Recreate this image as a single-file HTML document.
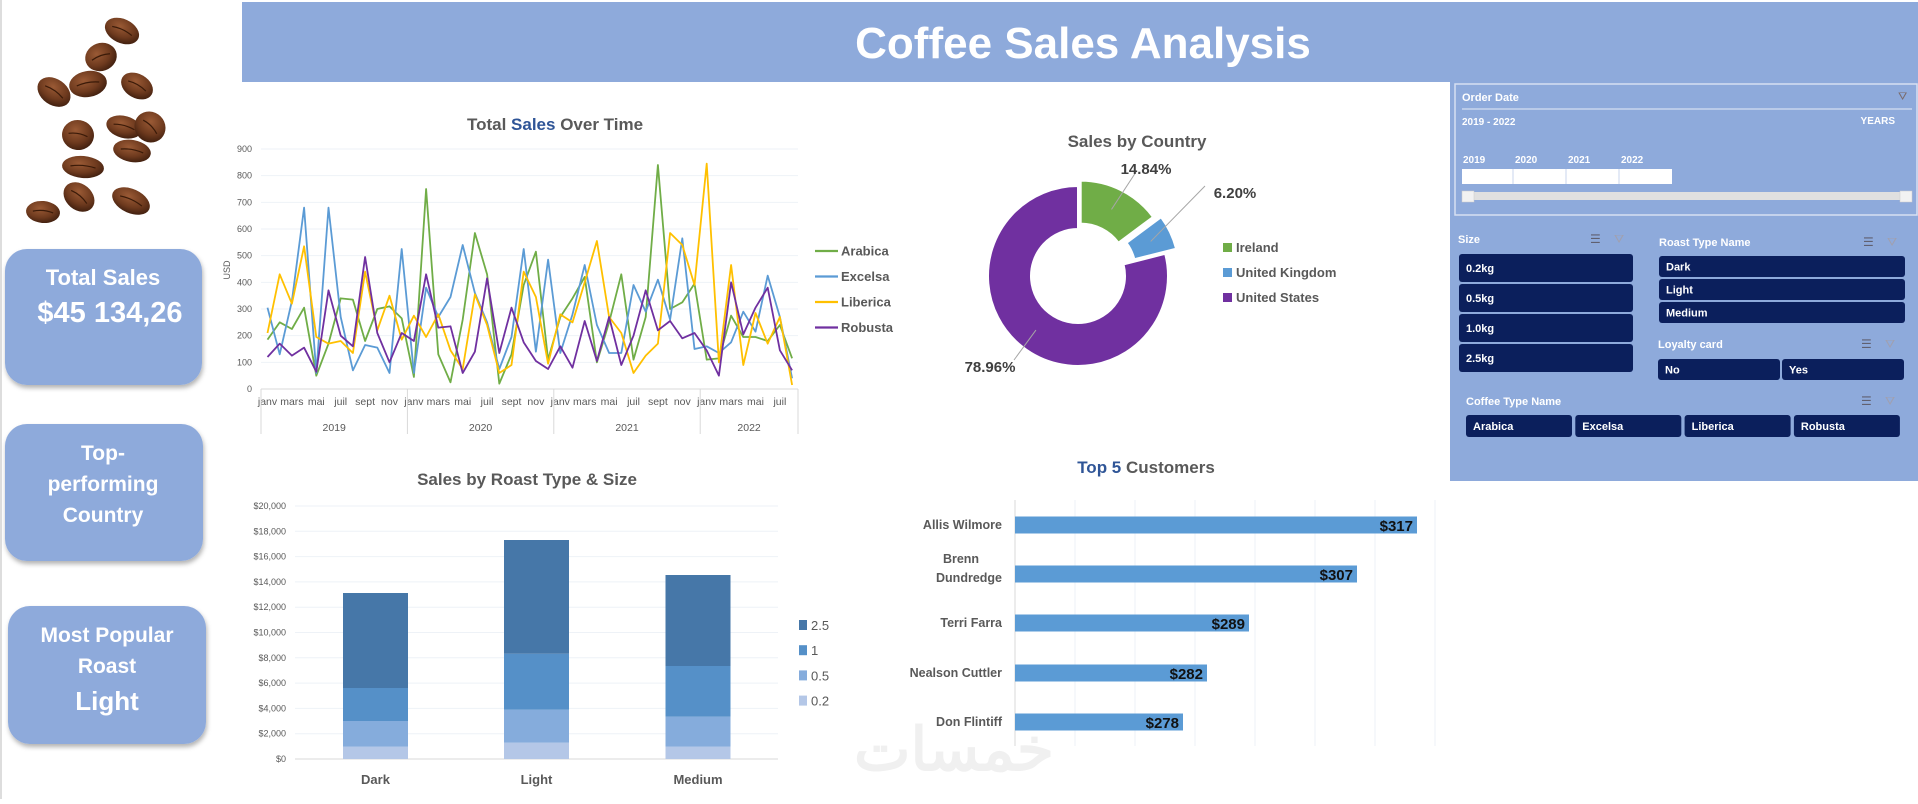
<!DOCTYPE html>
<html><head><meta charset="utf-8"><title>Coffee Sales Analysis</title>
<style>
html,body{margin:0;padding:0;background:#fff;}
body{width:1918px;height:799px;overflow:hidden;font-family:"Liberation Sans","Noto Sans CJK SC",sans-serif;}
svg text{font-family:"Liberation Sans","Noto Sans CJK SC",sans-serif;}
</style></head>
<body>
<svg id="dash" width="1918" height="799" viewBox="0 0 1918 799" xmlns="http://www.w3.org/2000/svg">
<defs>
<filter id="sh" x="-10%" y="-10%" width="130%" height="130%"><feDropShadow dx="1" dy="3" stdDeviation="2.5" flood-color="#000" flood-opacity="0.3"/></filter>
<radialGradient id="bean" cx="40%" cy="35%" r="70%"><stop offset="0" stop-color="#9a5a35"/><stop offset="0.6" stop-color="#6e3a1e"/><stop offset="1" stop-color="#3e1e0e"/></radialGradient>
</defs>
<rect x="0" y="0" width="1918" height="799" fill="#fff"/>
<line x1="1" y1="0" x2="1" y2="799" stroke="#ddd" stroke-width="2"/>
<rect x="242" y="2" width="1676" height="80" fill="#8eaadb"/>
<text x="1083" y="58" text-anchor="middle" font-size="44" font-weight="bold" fill="#fff">Coffee Sales Analysis</text>
<g id="beans"></g>
<g>
<rect x="5" y="249" width="197" height="136" rx="22" fill="#8eaadb" filter="url(#sh)"/>
<text x="103" y="285" text-anchor="middle" font-size="22" font-weight="bold" fill="#fff">Total Sales</text>
<text x="110" y="322" text-anchor="middle" font-size="29" font-weight="bold" fill="#fff">$45 134,26</text>
</g>
<g>
<rect x="5" y="424" width="198" height="137" rx="22" fill="#8eaadb" filter="url(#sh)"/>
<text x="103" y="460" text-anchor="middle" font-size="21" font-weight="bold" fill="#fff">Top-</text>
<text x="103" y="491" text-anchor="middle" font-size="21" font-weight="bold" fill="#fff">performing</text>
<text x="103" y="522" text-anchor="middle" font-size="21" font-weight="bold" fill="#fff">Country</text>
</g>
<g>
<rect x="8" y="606" width="198" height="138" rx="22" fill="#8eaadb" filter="url(#sh)"/>
<text x="107" y="642" text-anchor="middle" font-size="21" font-weight="bold" fill="#fff">Most Popular</text>
<text x="107" y="673" text-anchor="middle" font-size="21" font-weight="bold" fill="#fff">Roast</text>
<text x="107" y="710" text-anchor="middle" font-size="26" font-weight="bold" fill="#fff">Light</text>
</g>

<g id="lineChart">
<text x="555" y="130" text-anchor="middle" font-size="17" font-weight="bold" fill="#595959">Total <tspan fill="#2f5597">Sales</tspan> Over Time</text>
<text transform="translate(230,270) rotate(-90)" text-anchor="middle" font-size="9" fill="#595959">USD</text>
</g>
<g id="donut">
<text x="1137" y="147" text-anchor="middle" font-size="17" font-weight="bold" fill="#595959">Sales by Country</text>
</g>
<g id="stack">
<text x="527" y="485" text-anchor="middle" font-size="17" font-weight="bold" fill="#595959">Sales by Roast Type &amp; Size</text>
</g>
<g id="top5">
<text x="1146" y="473" text-anchor="middle" font-size="17" font-weight="bold" fill="#595959"><tspan fill="#2f5597">Top 5</tspan> Customers</text>
</g>
<text x="954" y="770" text-anchor="middle" font-size="60" font-weight="bold" fill="#f0f0f0" font-family="'WenQuanYi Zen Hei',sans-serif">خمسات</text>

<g>
<rect x="1450" y="82" width="468" height="399" fill="#8eaadb"/>
<rect x="1455" y="84" width="462" height="131" fill="none" stroke="#d6e0f2" stroke-width="1.5"/>
<text x="1462" y="101" font-size="11" font-weight="bold" fill="#fff">Order Date</text>
<text x="1898" y="100" font-size="11" fill="#7a6a6a">⛛</text>
<line x1="1462" y1="109" x2="1912" y2="109" stroke="#e6ecf7" stroke-width="1"/>
<text x="1462" y="125" font-size="10" font-weight="bold" fill="#fff">2019 - 2022</text>
<text x="1895" y="124" text-anchor="end" font-size="10" font-weight="bold" fill="#fff">YEARS</text>
<g>
<text x="1463" y="163" font-size="10" font-weight="bold" fill="#fff">2019</text>
<text x="1515" y="163" font-size="10" font-weight="bold" fill="#fff">2020</text>
<text x="1568" y="163" font-size="10" font-weight="bold" fill="#fff">2021</text>
<text x="1621" y="163" font-size="10" font-weight="bold" fill="#fff">2022</text>
<rect x="1462" y="169" width="210" height="15" fill="#fff"/>
<line x1="1513" y1="169" x2="1513" y2="184" stroke="#c8d4ec"/>
<line x1="1566" y1="169" x2="1566" y2="184" stroke="#c8d4ec"/>
<line x1="1619" y1="169" x2="1619" y2="184" stroke="#c8d4ec"/>
</g>
<g>
<rect x="1462" y="192" width="450" height="8" fill="#e0e0e0"/>
<rect x="1462" y="191" width="12" height="11" fill="#f2f2f2" stroke="#ccc" stroke-width="0.5"/>
<rect x="1900" y="191" width="12" height="11" fill="#f2f2f2" stroke="#ccc" stroke-width="0.5"/>
</g>
<g id="slicers"></g>
</g>
</svg>
<script>
const months = ['janv','févr','mars','avr','mai','juin','juil','août','sept','oct','nov','déc'];
const years = ['2019','2020','2021','2022'];
const yTicks = [0,100,200,300,400,500,600,700,800,900];
const arabica = [185,250,225,305,50,170,340,335,180,300,310,265, 45,750,130,25,260,585,430,20,130,390,515,110, 270,340,420,100,250,430,110,270,840,300,325,395, 110,115,275,195,195,180,240,115];
const excelsa = [305,130,330,680,60,680,270,70,165,155,60,525, 60,380,270,345,540,360,250,75,195,525,140,485, 135,280,465,240,135,135,390,290,410,260,565,150, 160,135,175,290,215,425,270,40];
const liberica = [210,430,320,535,195,170,180,135,440,220,350,185, 275,195,280,145,75,355,240,60,90,440,345,95, 280,250,400,555,270,210,60,125,170,585,540,390, 845,100,465,90,285,170,270,15];
const robusta = [120,170,125,155,65,370,200,160,495,210,100,210, 180,430,230,235,60,140,415,135,305,175,105,75, 160,80,255,105,270,90,200,370,220,255,190,210, 145,50,400,205,305,380,145,70];
const seriesNames = ['Arabica','Excelsa','Liberica','Robusta'];
const countries = ['Ireland','United Kingdom','United States'];
const countryShare = [14.84,6.20,78.96];
const roasts = ['Dark','Light','Medium'];
const sizes = ['0.2','0.5','1','2.5'];
const size02 = [975,1291,975];
const size05 = [2029,2609,2371];
const size1 = [2609,4427,4006];
const size25 = [7509,8985,7193];
const stackTicks = [0,2000,4000,6000,8000,10000,12000,14000,16000,18000,20000];
const customers = ['Allis Wilmore','Brenn Dundredge','Terri Farra','Nealson Cuttler','Don Flintiff'];
const customerSales = [317,307,289,282,278];
const custTicks = [250,260,270,280,290,300,310,320];

const NS='http://www.w3.org/2000/svg';
function mk(parent,tag,attrs,txt){const e=document.createElementNS(NS,tag);for(const k in attrs)e.setAttribute(k,attrs[k]);if(txt!==undefined)e.textContent=txt;parent.appendChild(e);return e;}

(function(){
const g=document.getElementById('beans');
const B=[[122,31,18,12,25],[101,57,16,14,-20],[88,84,19,13,-10],[54,92,18,13,35],[137,86,17,12,30],[78,135,16,15,10],[124,127,18,11,15],[150,127,16,15,45],[132,151,19,11,10],[83,167,21,11,5],[79,197,17,13,40],[131,201,20,12,25],[43,212,17,11,5]];
B.forEach(b=>{const e=mk(g,'ellipse',{cx:b[0],cy:b[1],rx:b[2],ry:b[3],fill:'url(#bean)',transform:`rotate(${b[4]} ${b[0]} ${b[1]})`});


mk(g,'path',{d:`M${b[0]-b[2]*0.6} ${b[1]} Q${b[0]} ${b[1]-3} ${b[0]+b[2]*0.6} ${b[1]}`,stroke:'#3a1a08',fill:'none','stroke-width':1.2,transform:`rotate(${b[4]} ${b[0]} ${b[1]})`});});
})();

(function(){
const g=document.getElementById('lineChart');
const x0=267.5, step=12.2, yb=389, yt=149;
const X=i=>x0+i*step, Y=v=>yb-(v/900)*(yb-yt);
yTicks.forEach(t=>{
 mk(g,'line',{x1:261,x2:798,y1:Y(t),y2:Y(t),stroke:t===0?'#d9d9d9':'#eef2f7','stroke-width':1});
 const tl=mk(g,'text',{x:252,y:Y(t)+3,'text-anchor':'end','font-size':9,fill:'#595959'},String(t));
 
 
});
const n=arabica.length;
for(let i=0;i<n;i+=2){
 const ml=mk(g,'text',{x:X(i),y:405,'text-anchor':'middle','font-size':10.5,fill:'#595959'},months[i%12]);
 
 
}
const bnd=[0,12,24,36,n];
for(let k=0;k<=4;k++){const bx=k<4?X(bnd[k])-6.5:798; mk(g,'line',{x1:bx,x2:bx,y1:389,y2:434,stroke:'#d9d9d9'});}
years.forEach((yr,k)=>{const a=X(bnd[k])-6.5,b=k<3?X(bnd[k+1])-6.5:798;
 const yl=mk(g,'text',{x:(a+b)/2,y:431,'text-anchor':'middle','font-size':10.5,fill:'#595959'},yr);
 
 
});
const data=[arabica,excelsa,liberica,robusta], cols=['#70ad47','#5b9bd5','#ffc000','#7030a0'];
data.forEach((d,s)=>{
 const pl=mk(g,'polyline',{points:d.map((v,i)=>X(i)+','+Y(v)).join(' '),fill:'none',stroke:cols[s],'stroke-width':1.8,'stroke-linejoin':'round'});
 
 
 const ly=251+s*25.5;
 const le=mk(g,'g',{});
 
 
 mk(le,'line',{x1:815,x2:838,y1:ly,y2:ly,stroke:cols[s],'stroke-width':2.2});
 mk(le,'text',{x:841,y:ly+4.5,'font-size':13,'font-weight':'bold',fill:'#595959'},seriesNames[s]);
});
})();

(function(){
const g=document.getElementById('donut');
const cx=1078, cy=276, R=90, r=47, cols=['#70ad47','#5b9bd5','#7030a0'], ex=[6,12,0];
const tot=countryShare.reduce((a,b)=>a+b,0);
let a0=-Math.PI/2;
const labelPos=[[1146,168],[1235,192],[990,366]];
const lineEnd=[[1136,172],[1205,186],[1014,360]];
countryShare.forEach((v,i)=>{
 const a1=a0+v/tot*2*Math.PI, am=(a0+a1)/2, dx=Math.cos(am)*ex[i], dy=Math.sin(am)*ex[i];
 const c=(ang,rad)=>[cx+dx+Math.cos(ang)*rad, cy+dy+Math.sin(ang)*rad];
 const lg=(a1-a0)>Math.PI?1:0;
 const p1=c(a0,R),p2=c(a1,R),p3=c(a1,r),p4=c(a0,r);
 const p=mk(g,'path',{d:`M${p1} A${R} ${R} 0 ${lg} 1 ${p2} L${p3} A${r} ${r} 0 ${lg} 0 ${p4}Z`,fill:cols[i],stroke:'#fff','stroke-width':2});
 
 
 const mid=c(am,(R+r)/2);
 mk(g,'line',{x1:mid[0],y1:mid[1],x2:lineEnd[i][0],y2:lineEnd[i][1],stroke:'#a6a6a6','stroke-width':1});
 const lp=labelPos[i];
 const t=mk(g,'text',{x:lp[0],y:lp[1]+6,'text-anchor':'middle','font-size':15,'font-weight':'bold',fill:'#404040'},v.toFixed(2)+'%');
 
 
 const le=mk(g,'g',{});
 
 
 mk(le,'rect',{x:1223,y:243+i*25,width:9,height:9,fill:cols[i]});
 mk(le,'text',{x:1236,y:252+i*25,'font-size':13,'font-weight':'bold',fill:'#595959'},countries[i]);
 a0=a1;
});
})();

(function(){
const g=document.getElementById('stack');
const yb=759, yt=506, Y=v=>yb-v/20000*(yb-yt);
stackTicks.forEach(t=>{
 mk(g,'line',{x1:295,x2:778,y1:Y(t),y2:Y(t),stroke:t===0?'#d9d9d9':'#eef2f7'});
 const tl=mk(g,'text',{x:286,y:Y(t)+3,'text-anchor':'end','font-size':9,fill:'#595959'},'$'+t.toLocaleString('en-US'));
 
 
});
const segs=[size02,size05,size1,size25], cols=['#b4c7e7','#85acdc','#5590c8','#4677a8'];
const centers=[375.5,536.5,698], w=65;
roasts.forEach((rn,j)=>{
 let acc=0;
 segs.forEach((s,k)=>{
  const r=mk(g,'rect',{x:centers[j]-w/2,y:Y(acc+s[j]),width:w,height:Y(acc)-Y(acc+s[j]),fill:cols[k]});
  
  
  acc+=s[j];
 });
 const cl=mk(g,'text',{x:centers[j],y:784,'text-anchor':'middle','font-size':13,'font-weight':'bold',fill:'#595959'},rn);
 
 
});
for(let k=3;k>=0;k--){
 const i=3-k, ly=620+i*25.2;
 const le=mk(g,'g',{});
 
 
 mk(le,'rect',{x:799,y:ly,width:8,height:10,fill:cols[k]});
 mk(le,'text',{x:811,y:ly+10,'font-size':13,fill:'#595959'},sizes[k]);
}
})();

(function(){
const g=document.getElementById('top5');
const x0=1015, X=v=>x0+(v-250)*6;
custTicks.forEach(t=>mk(g,'line',{x1:X(t),x2:X(t),y1:500,y2:746,stroke:t===250?'#d9d9d9':'#eef2f7'}));
const rows=[525,574,623,673,722];
customers.forEach((c,i)=>{
 const b=mk(g,'rect',{x:x0,y:rows[i]-8.5,width:X(customerSales[i])-x0,height:17,fill:'#5b9bd5'});
 
 
 const v=mk(g,'text',{x:X(customerSales[i])-4,y:rows[i]+6,'text-anchor':'end','font-size':15,'font-weight':'bold',fill:'#111'},'$'+customerSales[i]);
 
 
 const parts=c==='Brenn Dundredge'?['Brenn','Dundredge']:[c];
 parts.forEach((p,k)=>{
  const tx=parts.length>1?(k===0?961:1002):1002;
  const l=mk(g,'text',{x:tx,y:rows[i]+4+(parts.length>1?(k===0?-15:4):0),'text-anchor':parts.length>1&&k===0?'middle':'end','font-size':12.5,'font-weight':'bold',fill:'#595959'},p);
  
  
 });
});
})();

(function(){
const g=document.getElementById('slicers');
function header(x,y,txt,ix){
 mk(g,'text',{x:x,y:y,'font-size':11,'font-weight':'bold',fill:'#fff'},txt);
 const a=mk(g,'text',{x:ix,y:y,'font-size':12,fill:'#606070'},'☰');
 
 
 const b=mk(g,'text',{x:ix+24,y:y,'font-size':12,fill:'#a0a0b0'},'⛛');
 
 
}
function btn(x,y,w,h,txt){
 const bg=mk(g,'g',{});
 
 
 mk(bg,'rect',{x:x,y:y,width:w,height:h,rx:3,fill:'#0b1f5c'});
 mk(bg,'text',{x:x+7,y:y+h/2+4,'font-size':11,'font-weight':'bold',fill:'#fff'},txt);
}
header(1458,243,'Size',1590);
['0.2kg','0.5kg','1.0kg','2.5kg'].forEach((t,i)=>btn(1459,254+i*30,174,28,t));
header(1659,246,'Roast Type Name',1863);
['Dark','Light','Medium'].forEach((t,i)=>btn(1659,256+i*23,246,21,t));
header(1658,348,'Loyalty card',1861);
btn(1658,359,122,21,'No');btn(1782,359,122,21,'Yes');
header(1466,405,'Coffee Type Name',1861);
['Arabica','Excelsa','Liberica','Robusta'].forEach((t,i)=>btn(1466+i*109.3,415,106,22,t));
})();
</script>
</body></html>
